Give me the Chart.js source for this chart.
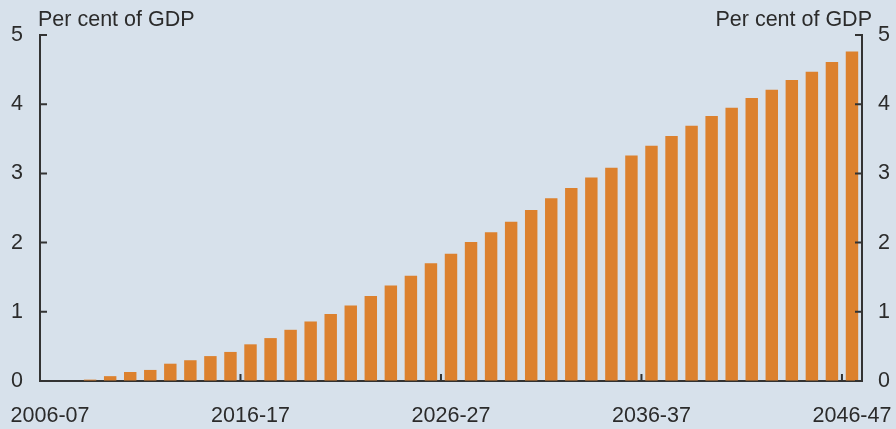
<!DOCTYPE html>
<html>
<head>
<meta charset="utf-8">
<script src="https://cdn.jsdelivr.net/npm/chart.js@4"></script>
<style>
  html, body { margin: 0; padding: 0; background: #d7e1eb; }
  #wrap { position: relative; width: 896px; height: 429px; }
  .unit {
    position: absolute; top: 7px; line-height: 1; white-space: nowrap;
    font: 21.5px "Liberation Sans", Arial, sans-serif; color: #2b2b2b;
  }
</style>
</head>
<body>
<div id="wrap">
  <canvas id="chart" width="896" height="429"></canvas>
  <div class="unit" style="left:38px">Per cent of GDP</div>
  <div class="unit" style="right:24px">Per cent of GDP</div>
</div>
<script>
// Données
var years = [
  '2006-07', '2007-08', '2008-09', '2009-10', '2010-11', '2011-12', '2012-13',
  '2013-14', '2014-15', '2015-16', '2016-17', '2017-18', '2018-19', '2019-20',
  '2020-21', '2021-22', '2022-23', '2023-24', '2024-25', '2025-26', '2026-27',
  '2027-28', '2028-29', '2029-30', '2030-31', '2031-32', '2032-33', '2033-34',
  '2034-35', '2035-36', '2036-37', '2037-38', '2038-39', '2039-40', '2040-41',
  '2041-42', '2042-43', '2043-44', '2044-45', '2045-46', '2046-47'
];
var gdpShare = [
  0, 0, 0.02, 0.07, 0.13, 0.16, 0.25, 0.30, 0.36, 0.42,
  0.53, 0.62, 0.74, 0.86, 0.97, 1.09, 1.23, 1.38, 1.52, 1.70,
  1.84, 2.01, 2.15, 2.30, 2.47, 2.64, 2.79, 2.94, 3.08, 3.26,
  3.40, 3.54, 3.69, 3.83, 3.95, 4.09, 4.21, 4.35, 4.47, 4.61,
  4.76
];
var xTickLabels = ['2006-07', '2016-17', '2026-27', '2036-37', '2046-47'];
var yTicks = [0, 1, 2, 3, 4, 5];

var axisColor = '#333333';
var textColor = '#2b2b2b';
var barColor = '#dc812e';

Chart.defaults.font.family = '"Liberation Sans", Arial, sans-serif';
Chart.defaults.font.size = 21.5;
Chart.defaults.color = textColor;

// petits traits vers l'intérieur
var inwardTicks = {
  id: 'inwardTicks',
  afterDatasetsDraw: function (chart) {
    var ctx = chart.ctx;
    var area = chart.chartArea;
    var x = chart.scales.x;
    var y = chart.scales.y;
    var half = (x.getPixelForValue(1) - x.getPixelForValue(0)) / 2;
    ctx.save();
    ctx.strokeStyle = axisColor;
    ctx.lineWidth = 2;
    ctx.beginPath();
    yTicks.forEach(function (v) {
      var py = y.getPixelForValue(v);
      ctx.moveTo(area.left, py); ctx.lineTo(area.left + 7, py);
      ctx.moveTo(area.right, py); ctx.lineTo(area.right - 7, py);
    });
    years.forEach(function (lab, i) {
      if (xTickLabels.indexOf(lab) < 0) return;
      var px = x.getPixelForValue(i) - half;
      ctx.moveTo(px, area.bottom); ctx.lineTo(px, area.bottom - 7);
    });
    ctx.stroke();
    ctx.restore();
  }
};

function yScale(position, pad, width) {
  return {
    position: position,
    min: 0,
    max: 5,
    afterBuildTicks: function (s) { s.ticks = yTicks.map(function (v) { return { value: v }; }); },
    ticks: { padding: pad, color: textColor },
    grid: { drawOnChartArea: false, drawTicks: false },
    border: { color: axisColor, width: 2 },
    afterFit: function (s) { s.width = width; }
  };
}

new Chart(document.getElementById('chart'), {
  type: 'bar',
  data: {
    labels: years,
    datasets: [{
      data: gdpShare,
      backgroundColor: barColor,
      borderWidth: 0,
      categoryPercentage: 1,
      barPercentage: 0.62,
      yAxisID: 'y'
    }]
  },
  options: {
    responsive: false,
    animation: false,
    layout: { padding: { top: 35, left: 0, right: 0, bottom: 0 } },
    plugins: { legend: { display: false }, tooltip: { enabled: false } },
    scales: {
      x: {
        offset: true,
        grid: { offset: true, drawOnChartArea: false, drawTicks: false },
        border: { color: axisColor, width: 2 },
        ticks: {
          autoSkip: false,
          maxRotation: 0,
          padding: 22,
          color: textColor,
          callback: function (val, i) {
            var lab = years[i];
            return xTickLabels.indexOf(lab) >= 0 ? lab : '';
          }
        },
        afterFit: function (s) {
          s.height = 48;
          s.paddingLeft = 0;
          s.paddingRight = 0;
        }
      },
      y: yScale('left', 17, 40),
      y2: yScale('right', 16, 34)
    }
  },
  plugins: [inwardTicks]
});
</script>
</body>
</html>
